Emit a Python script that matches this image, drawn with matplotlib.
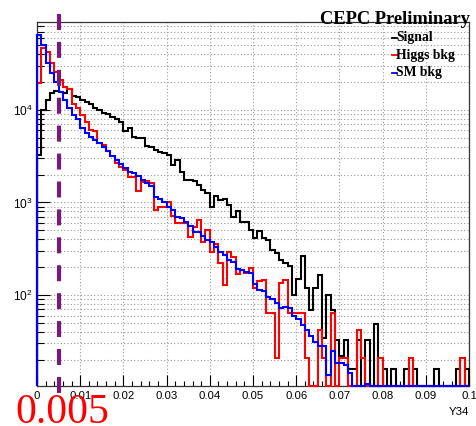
import numpy as np
import matplotlib
matplotlib.use("Agg")
import matplotlib.pyplot as plt
from matplotlib.ticker import MultipleLocator, LogLocator, FuncFormatter, NullFormatter
from matplotlib.lines import Line2D

plt.rcParams["lines.scale_dashes"] = False
plt.rcParams["font.family"] = ["Liberation Sans", "DejaVu Sans"]
plt.rcParams["mathtext.fontset"] = "custom"
plt.rcParams["mathtext.rm"] = "Liberation Sans"

# Y34 distribution, 100 bins between 0 and 0.1
bin_edges = np.linspace(0.0, 0.1, 101)

signal = [
    3300, 10000, 12800, 15400, 16000, 15700, 15200, 16900, 14200, 13700,
    12800, 12300, 11600, 10400, 10000, 9200, 9000, 8460, 7930, 7470,
    5930, 6340, 5150, 5000, 4950, 4080, 3940, 3700, 3520, 3450,
    3240, 2540, 2880, 2160, 1750, 1750, 1710, 1550, 1360, 1270,
    900, 1180, 1060, 1080, 940, 700, 800, 620, 620, 505,
    410, 495, 410, 394, 307, 283, 239, 220, 205, 100,
    149, 263, 118, 69, 118, 164, 34, 100, 69, 33,
    22, 33, 16, 16, 33, 0, 33, 0, 49, 0,
    16, 0, 16, 0, 0, 16, 0, 16, 0, 0,
    0, 0, 16, 0, 0, 0, 0, 16, 0, 16,
]

higgs_bkg = [
    19400, 46300, 42000, 31900, 26000, 21100, 17800, 16700, 11500, 10400,
    8900, 7500, 6100, 5900, 4400, 4200, 3600, 3150, 2700, 2400,
    2250, 1900, 1900, 1340, 1680, 1700, 1620, 830, 900, 900,
    1020, 720, 600, 600, 600, 425, 540, 650, 378, 505,
    295, 360, 220, 128, 295, 260, 168, 186, 175, 195,
    118, 142, 145, 64, 64, 21, 135, 147, 64, 64,
    64, 64, 21, 0, 0, 42, 21, 0, 64, 0,
    21, 21, 0, 0, 42, 21, 0, 0, 0, 21,
    0, 0, 0, 0, 0, 0, 21, 0, 0, 0,
    0, 0, 0, 0, 0, 0, 0, 0, 21, 0,
]

sm_bkg = [
    64700, 50500, 31900, 24900, 20300, 15800, 12800, 10400, 8830, 7930,
    6400, 5700, 5100, 4750, 4360, 3950, 3580, 3200, 2900, 2580,
    2350, 2160, 2080, 1920, 1750, 1610, 1500, 1160, 1080, 1020,
    900, 830, 700, 675, 620, 550, 485, 485, 435, 394,
    375, 330, 290, 270, 239, 225, 190, 186, 177, 175,
    131, 113, 110, 96, 90, 82, 72, 74, 72, 60,
    55, 47, 42, 36, 31, 28, 28, 13.6, 25, 18.4,
    18.4, 17.3, 14.2, 0, 0, 0, 11, 0, 0, 0,
    0, 0, 0, 0, 0, 0, 0, 0, 0, 0,
    0, 0, 0, 0, 0, 0, 0, 0, 0, 0,
]

series_labels = ["Signal", "Higgs bkg", "SM bkg"]
series_colors = ["#000000", "#ff0000", "#0000ff"]
y34_cut = 0.005

x_range = (0.0, 0.1)
y_range = (10.46, 89300)

W, H = 476, 426
fig = plt.figure(figsize=(W / 100, H / 100), dpi=100)
fig.patch.set_facecolor("white")

ax_l, ax_r, ax_t, ax_b = 37, 469, 22, 385.7
ax = fig.add_axes([ax_l / W, 1 - ax_b / H, (ax_r - ax_l) / W, (ax_b - ax_t) / H])
ax.set_yscale("log")
ax.set_xlim(*x_range)
ax.set_ylim(*y_range)

# grid: vertical at major x ticks, horizontal at all decades and sub-decades
grid_kw = dict(color="#9a9a9a", linewidth=0.8, linestyle=(0, (0.8, 1.6)))
ax.xaxis.grid(True, which="major", **grid_kw)
ax.yaxis.grid(True, which="both", **grid_kw)
ax.set_axisbelow(True)

# histograms, empty bins drawn along the lower edge as in ROOT
for vals, col in zip([signal, higgs_bkg, sm_bkg], series_colors):
    v = np.maximum(np.asarray(vals, dtype=float), y_range[0])
    ax.stairs(v, bin_edges, baseline=y_range[0], color=col, linewidth=1.5,
              zorder=3, clip_on=False)

# ticks
ax.xaxis.set_major_locator(MultipleLocator(0.01))
ax.xaxis.set_minor_locator(MultipleLocator(0.002))
ax.xaxis.set_major_formatter(FuncFormatter(lambda v, p: "{:g}".format(round(v, 4))))
ax.yaxis.set_major_locator(LogLocator(base=10))
ax.yaxis.set_minor_locator(LogLocator(base=10, subs=np.arange(2, 10)))
ax.yaxis.set_minor_formatter(NullFormatter())
ax.tick_params(axis="x", which="major", direction="in", length=8, width=0.8,
               labelsize=8.2, pad=4, top=False)
ax.tick_params(axis="x", which="minor", direction="in", length=3.8, width=0.8, top=False)
ax.tick_params(axis="y", which="major", direction="in", length=9.5, width=0.8,
               labelsize=8.6, pad=3, right=False)
ax.tick_params(axis="y", which="minor", direction="in", length=5, width=0.8, right=False)
for s in ax.spines.values():
    s.set_linewidth(0.9)
    s.set_color("#333333")

ax.set_xlabel("Y34", fontsize=8.2, loc="right", labelpad=4)

# cut position
cut_line = ax.plot([y34_cut, y34_cut], [1.022, -0.03], transform=ax.get_xaxis_transform(),
                   color="#7a1a78", linewidth=3.0, linestyle=(0, (11.5, 8.6)),
                   clip_on=False, zorder=4, solid_capstyle="butt")[0]
cut_line.set_dash_capstyle("butt")

fig.text(15 / W, 3 / H, "{:g}".format(y34_cut), color="#ff0000",
         fontsize=30, family="Liberation Serif", ha="left", va="baseline", zorder=5)

# header
fig.text(470 / W, 1 - 24 / H, "CEPC Preliminary", fontsize=13.3,
         family="Liberation Serif", fontweight="bold", ha="right", va="baseline")

# legend entries
for i, (lab, col) in enumerate(zip(series_labels, series_colors)):
    yc = 1 - (37.5 + 17.5 * i) / H
    fig.add_artist(Line2D([392 / W, 396.5 / W], [yc, yc], color=col, linewidth=1.3,
                          transform=fig.transFigure))
    fig.text(396.5 / W, yc, lab, fontsize=9.8, family="Liberation Serif",
             fontweight="bold", ha="left", va="center")

fig.savefig("out.png", dpi=100)
